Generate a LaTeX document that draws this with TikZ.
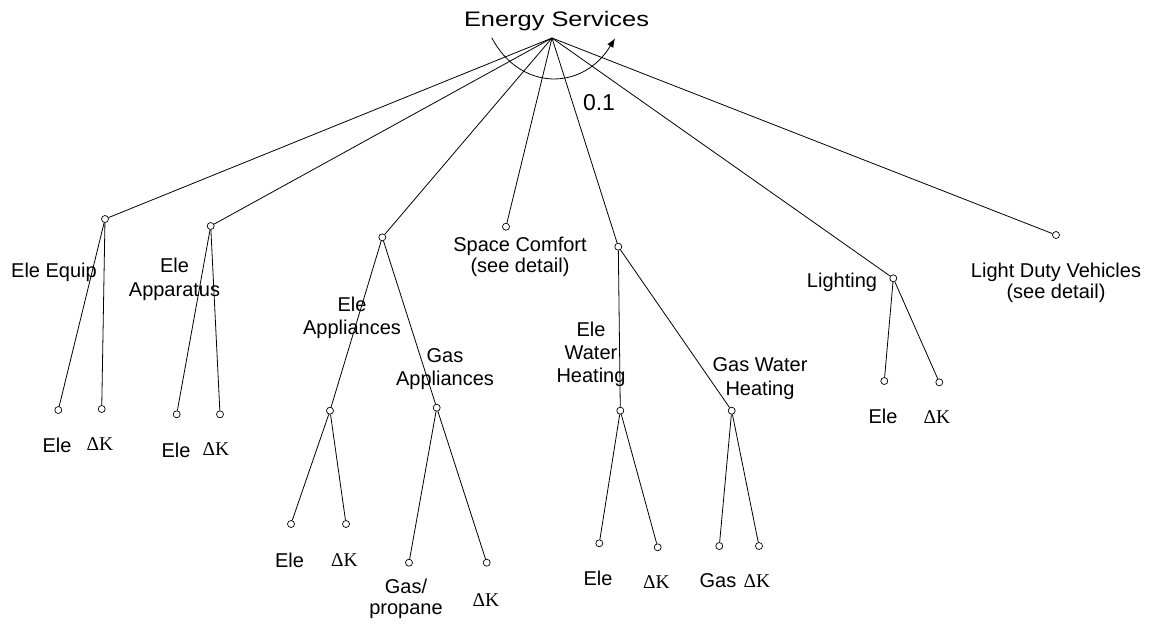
\documentclass[tikz,border=0pt]{standalone}
\usepackage{fontspec}
\usepackage{graphicx}
\setmainfont{Liberation Sans}
\newfontfamily\serifK{Liberation Serif}
\usetikzlibrary{arrows.meta}

\begin{document}
\begin{tikzpicture}[x=1pt,y=-1pt,
  wire/.style={line width=0.8pt},
  dot/.style={circle,draw,line width=0.7pt,fill=white,inner sep=0pt,minimum size=7pt},
  lbl/.style={inner sep=0pt,font=\fontsize{20}{23}\selectfont,align=center},
  dk/.style={inner sep=0pt,anchor=base,font=\serifK\fontsize{19.5}{23}\selectfont},
]
\useasboundingbox (0,0) rectangle (1151,625);

% root and title
\coordinate (root) at (552,38);
\node[inner sep=0pt,anchor=base,font=\fontsize{21}{25}\selectfont] (title) at (556.5,26.7)
  {\scalebox{1.21}[1]{Energy Services}};

% first level
\node[dot] (equip)  at (105,219) {};
\node[dot] (appar)  at (210.7,226) {};
\node[dot] (appl)   at (382.3,237.3) {};
\node[dot] (space)  at (506,226.7) {};
\node[dot] (water)  at (618.3,246.7) {};
\node[dot] (light)  at (893.3,278.3) {};
\node[dot] (ldv)    at (1056,235) {};

% second level
\node[dot] (equipE) at (58.3,410) {};
\node[dot] (equipK) at (101.7,409) {};
\node[dot] (apparE) at (176.7,414.3) {};
\node[dot] (apparK) at (220,414.3) {};
\node[dot] (eappl)  at (330,410.7) {};
\node[dot] (gappl)  at (436.7,407.7) {};
\node[dot] (eapplE) at (291,524) {};
\node[dot] (eapplK) at (346,524) {};
\node[dot] (gapplG) at (409,562.7) {};
\node[dot] (gapplK) at (486.7,562.7) {};
\node[dot] (ewh)    at (620.3,410.7) {};
\node[dot] (gwh)    at (731.7,410.7) {};
\node[dot] (ewhE)   at (599.3,543.3) {};
\node[dot] (ewhK)   at (657.7,547.3) {};
\node[dot] (gwhG)   at (719.3,546) {};
\node[dot] (gwhK)   at (759,546) {};
\node[dot] (lightE) at (884.3,381) {};
\node[dot] (lightK) at (939.3,382.3) {};

% branches
\foreach \n in {equip,appar,appl,space,water,light,ldv}
  \draw[wire] (root) -- (\n);
\draw[wire] (equip) -- (equipE);  \draw[wire] (equip) -- (equipK);
\draw[wire] (appar) -- (apparE);  \draw[wire] (appar) -- (apparK);
\draw[wire] (appl) -- (eappl);    \draw[wire] (appl) -- (gappl);
\draw[wire] (eappl) -- (eapplE);  \draw[wire] (eappl) -- (eapplK);
\draw[wire] (gappl) -- (gapplG);  \draw[wire] (gappl) -- (gapplK);
\draw[wire] (water) -- (ewh);     \draw[wire] (water) -- (gwh);
\draw[wire] (ewh) -- (ewhE);      \draw[wire] (ewh) -- (ewhK);
\draw[wire] (gwh) -- (gwhG);      \draw[wire] (gwh) -- (gwhK);
\draw[wire] (light) -- (lightE);  \draw[wire] (light) -- (lightK);

% elasticity arc
\coordinate (arcL) at (491.7,37.7);
\coordinate (arcR) at (615,38.3);
\draw[wire,-{Latex[length=9pt,width=7pt]}] (arcL) .. controls (520,91.3) and (583,91.3) .. (arcR);
\node[inner sep=0pt,anchor=base,font=\fontsize{23}{27}\selectfont] (sigma) at (599,110) {0.1};

% category labels
\node[lbl,anchor=base] (tEquip) at (54,277) {Ele Equip};
\node[lbl,anchor=north,font=\fontsize{20}{24}\selectfont] (tAppar) at (174.5,258) {Ele\\Apparatus};
\node[lbl,anchor=north] (tEappl) at (352,297) {Ele\\Appliances};
\node[lbl,anchor=north] (tGappl) at (445,348.5) {Gas\\Appliances};
\node[lbl,anchor=north,font=\fontsize{20}{21}\selectfont] (tSpace) at (520,236.5) {Space Comfort\\(see detail)};
\node[lbl,anchor=north] (tEwh) at (591,322) {Ele\\Water\\Heating};
\node[lbl,anchor=north,font=\fontsize{20}{24}\selectfont] (tGwh) at (760,357) {Gas Water\\Heating};
\node[lbl,anchor=base] (tLight) at (842,287) {Lighting};
\node[lbl,anchor=north,font=\fontsize{20}{21}\selectfont] (tLdv) at (1056,263) {Light Duty Vehicles\\(see detail)};

% leaf labels
\node[lbl,anchor=base] (lEquipE) at (57,452) {Ele};
\node[dk] (lEquipK) at (100,450) {ΔK};
\node[lbl,anchor=base] (lApparE) at (176,457) {Ele};
\node[dk] (lApparK) at (216,455) {ΔK};
\node[lbl,anchor=base] (lEapplE) at (289.5,567) {Ele};
\node[dk] (lEapplK) at (344.5,566) {ΔK};
\node[lbl,anchor=north,font=\fontsize{20}{21}\selectfont] (lGapplG) at (406,579) {Gas/\\propane};
\node[dk] (lGapplK) at (486,606) {ΔK};
\node[lbl,anchor=base] (lEwhE) at (598,585) {Ele};
\node[dk] (lEwhK) at (656.5,588) {ΔK};
\node[lbl,anchor=base] (lGwhG) at (718,587) {Gas};
\node[dk] (lGwhK) at (757,587) {ΔK};
\node[lbl,anchor=base] (lLightE) at (883,423) {Ele};
\node[dk] (lLightK) at (937,423) {ΔK};
\end{tikzpicture}
\end{document}
